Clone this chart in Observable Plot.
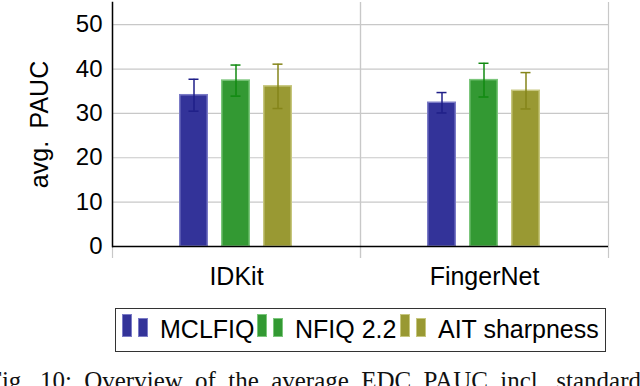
<!DOCTYPE html>
<html>
<head>
<meta charset="utf-8">
<script src="https://cdn.jsdelivr.net/npm/d3@7"></script>
<script src="https://cdn.jsdelivr.net/npm/@observablehq/plot@0.6"></script>
<style>
  html, body { margin: 0; padding: 0; background: #fff; }
  #wrap { position: relative; width: 640px; height: 386px; overflow: hidden; font-family: "Liberation Sans", Arial, sans-serif; color: #000; }
  #chart { position: absolute; left: 0; top: 0; }
  #legend { position: absolute; left: 115px; top: 308px; width: 489px; height: 42px; border: 1.5px solid #333; box-sizing: content-box; }
  .item { position: absolute; top: 0; height: 42px; }
  .sw { position: absolute; box-sizing: border-box; border-width: 1.5px; border-style: solid; }
  .lab { position: absolute; top: 5px; font-size: 25px; line-height: 30px; white-space: nowrap; }
  #caption { position: absolute; left: -12px; top: 366px; font-family: "Liberation Serif", "Times New Roman", serif; font-size: 25px; line-height: 30px; white-space: nowrap; color: #111; }
</style>
</head>
<body>
<div id="wrap">
  <div id="chart"></div>
  <div id="legend"></div>
  <div id="caption"></div>
</div>
<script>
const categories = ["IDKit", "FingerNet"];
const methods = ["MCLFIQ", "NFIQ 2.2", "AIT sharpness"];
const meanIDKit = [34.1, 37.4, 36.1];
const sdIDKit = [3.6, 3.5, 5.0];
const meanFingerNet = [32.4, 37.5, 35.1];
const sdFingerNet = [2.3, 3.8, 4.1];
const yTicks = [0, 10, 20, 30, 40, 50];
const fills = ["#333399", "#339933", "#999933"];
const strokes = ["#7b7bc6", "#7cc67c", "#c6c67e"];
const errColors = ["#1f1f88", "#108a10", "#85851a"];
const captionText = "Fig. 10: Overview of the average EDC PAUC incl. standard";

const data = [];
categories.forEach((c, ci) => {
  const means = ci === 0 ? meanIDKit : meanFingerNet;
  const sds = ci === 0 ? sdIDKit : sdFingerNet;
  methods.forEach((m, mi) => {
    data.push({category: c, method: m, mean: means[mi], lo: means[mi] - sds[mi], hi: means[mi] + sds[mi]});
  });
});

const chart = Plot.plot({
  width: 640,
  height: 300,
  marginLeft: 112,
  marginRight: 32,
  marginTop: 2,
  marginBottom: 54,
  style: {fontFamily: "Liberation Sans, Arial, sans-serif", fontSize: "24px", color: "#000", background: "#fff"},
  fx: {domain: categories, padding: 0, label: null},
  x: {domain: methods, paddingInner: 0.302, paddingOuter: 1.535, axis: null},
  y: {domain: [0, 55], label: null},
  color: {domain: methods, range: fills},
  marks: [
    Plot.gridY(yTicks, {stroke: "#c8c8c8", strokeOpacity: 1, strokeWidth: 1.2}),
    Plot.frame({anchor: "left", stroke: "#c8c8c8", strokeWidth: 1.2, insetBottom: -11}),
    Plot.frame({anchor: "right", stroke: "#c8c8c8", strokeWidth: 1.2, insetBottom: -11}),
    Plot.barY(data, {fx: "category", x: "method", y: "mean", fill: "method", stroke: d => strokes[methods.indexOf(d.method)], strokeWidth: 1.5, insetLeft: 0.75, insetRight: 0.75}),
    Plot.ruleX(data, {fx: "category", x: "method", y1: "lo", y2: "hi", stroke: d => errColors[methods.indexOf(d.method)], strokeWidth: 1.5}),
    Plot.tickY(data, {fx: "category", x: "method", y: "lo", stroke: d => errColors[methods.indexOf(d.method)], strokeWidth: 1.5, insetLeft: 9.5, insetRight: 9.5}),
    Plot.tickY(data, {fx: "category", x: "method", y: "hi", stroke: d => errColors[methods.indexOf(d.method)], strokeWidth: 1.5, insetLeft: 9.5, insetRight: 9.5}),
    Plot.ruleY([0], {stroke: "#000", strokeWidth: 1.5}),
    Plot.frame({anchor: "left", stroke: "#000", strokeWidth: 1.5, facetAnchor: "left"}),
    Plot.axisY(yTicks, {tickSize: 0, tickPadding: 10, fontSize: 24, label: null}),
    Plot.axisY({tickSize: 0, ticks: [], fontSize: 25, label: "avg.\u2002PAUC", labelAnchor: "center", labelArrow: "none", labelOffset: 82}),
    Plot.axisFx({anchor: "bottom", tickSize: 0, tickPadding: 21, fontSize: 25, label: null})
  ]
});
document.getElementById("chart").appendChild(chart);

// Legend
const legend = document.getElementById("legend");
const itemLefts = [6, 141, 284];
const labelOffsets = [38, 38, 38];
methods.forEach((m, i) => {
  const item = document.createElement("div");
  item.className = "item";
  item.style.left = itemLefts[i] + "px";
  const s1 = document.createElement("div");
  s1.className = "sw";
  Object.assign(s1.style, {left: "0px", top: "5px", width: "10px", height: "23px", background: fills[i], borderColor: strokes[i]});
  const s2 = document.createElement("div");
  s2.className = "sw";
  Object.assign(s2.style, {left: "16px", top: "9px", width: "10px", height: "19px", background: fills[i], borderColor: strokes[i]});
  const lab = document.createElement("div");
  lab.className = "lab";
  lab.style.left = labelOffsets[i] + "px";
  lab.textContent = m;
  item.appendChild(s1); item.appendChild(s2); item.appendChild(lab);
  legend.appendChild(item);
});

// Caption
const cap = document.getElementById("caption");
cap.textContent = captionText;
const target = 653;
const w = cap.getBoundingClientRect().width;
const spaces = (captionText.match(/ /g) || []).length;
cap.style.wordSpacing = ((target - w) / spaces) + "px";
</script>
</body>
</html>
